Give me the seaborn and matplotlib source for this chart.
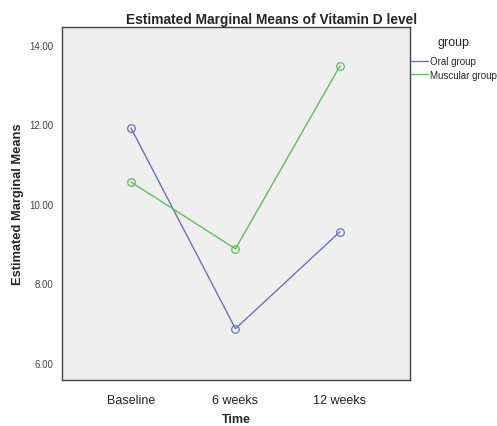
import pandas as pd
import matplotlib
matplotlib.use("Agg")
import matplotlib.pyplot as plt
import seaborn as sns

time_labels = ["Baseline", "6 weeks", "12 weeks"]
oral_means = [11.91, 6.86, 9.30]
muscular_means = [10.55, 8.87, 13.47]
groups = ["Oral group", "Muscular group"]
colors = {"Oral group": "#6b73b8", "Muscular group": "#5cc05c"}

df = pd.DataFrame({
    "Time": time_labels * 2,
    "mean": oral_means + muscular_means,
    "group": [groups[0]] * 3 + [groups[1]] * 3,
})

sns.set_style("white")
plt.rcParams["font.family"] = ["Liberation Sans", "DejaVu Sans"]

fig = plt.figure(figsize=(4.97, 4.27), dpi=100)
ax = fig.add_axes([0.1247, 0.1077, 0.7002, 0.8267])
ax.set_facecolor("#efefef")

sns.lineplot(data=df, x="Time", y="mean", hue="group", palette=colors,
             hue_order=groups, marker="o", markersize=5.5, markerfacecolor="none",
             markeredgewidth=0.9, linewidth=1.0, sort=False, ax=ax, legend=False)
# seaborn paints marker edges white; give them the line colour again
for line in ax.get_lines():
    line.set_markeredgecolor(line.get_color())

ax.set_xlim(-0.66, 2.67)
ax.set_ylim(5.57, 14.45)
ax.set_yticks([6, 8, 10, 12, 14])
ax.set_yticklabels([f"{v:.2f}" for v in [6, 8, 10, 12, 14]], fontsize=7, color="#444444")
ax.set_xticks([0, 1, 2])
ax.set_xticklabels(time_labels, fontsize=9, color="#222222")
ax.tick_params(axis="y", length=5, width=1, color="#555555", pad=1)
ax.tick_params(axis="x", length=7, width=1.2, color="#555555", pad=3)
for s in ax.spines.values():
    s.set_color("#444444")
    s.set_linewidth(1.0)

ax.set_xlabel("Time", fontsize=9, fontweight="bold", labelpad=5)
ax.set_ylabel("Estimated Marginal Means", fontsize=9.3, fontweight="bold", labelpad=4)
fig.text(272 / 497, 1 - 24 / 427, "Estimated Marginal Means of Vitamin D level",
         fontsize=9.9, fontweight="bold", ha="center", va="baseline")

handles = [plt.Line2D([], [], color=colors[g], linewidth=1.0) for g in groups]
leg = ax.legend(handles, groups, title="group", loc="upper left",
                bbox_to_anchor=(1.002, 0.975), frameon=False, fontsize=7,
                title_fontsize=9, handlelength=1.8, handletextpad=0.2,
                labelspacing=0.35, borderaxespad=0, borderpad=0)
leg._legend_box.sep = 6

fig.savefig("out.png", dpi=100)
